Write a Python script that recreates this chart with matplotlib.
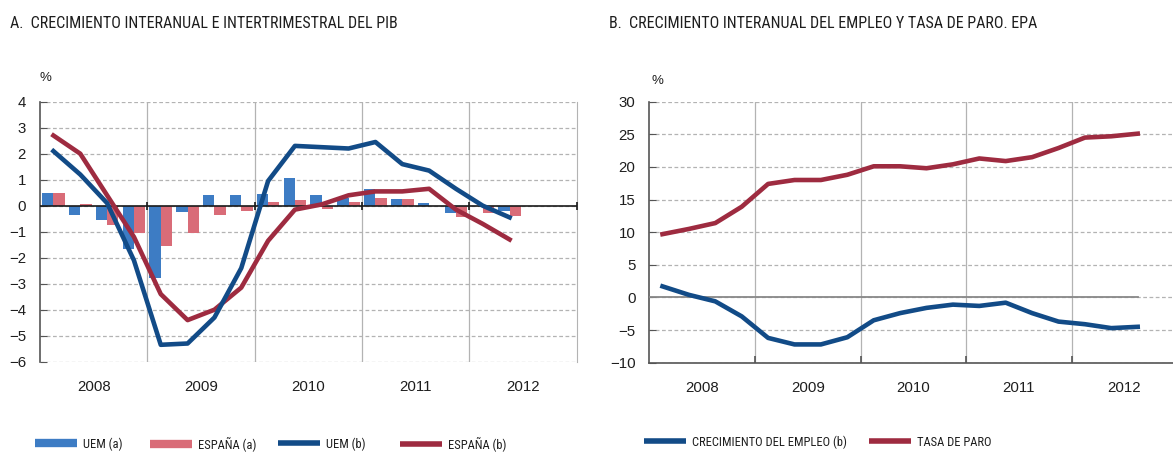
##################################################
# imports
##################################################

import numpy as np
import matplotlib
matplotlib.use('Agg')
import matplotlib.pyplot as plt
from matplotlib import font_manager as fm
from matplotlib.lines import Line2D

##################################################
# data
##################################################

years = ['2008', '2009', '2010', '2011', '2012']

# panel A: quarterly, 2008Q1 - 2012Q2
uem_a = [0.5, -0.35, -0.55, -1.65, -2.8, -0.25, 0.4, 0.4, 0.45, 1.05, 0.4, 0.3, 0.65, 0.25, 0.1, -0.3, 0.0, -0.2]
esp_a = [0.5, 0.05, -0.75, -1.05, -1.55, -1.05, -0.35, -0.2, 0.15, 0.2, -0.12, 0.15, 0.3, 0.25, 0.0, -0.45, -0.3, -0.4]
uem_b = [2.1, 1.2, 0.1, -2.1, -5.35, -5.3, -4.3, -2.4, 0.95, 2.3, 2.25, 2.2, 2.45, 1.6, 1.35, 0.65, 0.0, -0.45]
esp_b = [2.7, 2.0, 0.4, -1.2, -3.4, -4.4, -4.0, -3.15, -1.35, -0.15, 0.05, 0.4, 0.55, 0.55, 0.65, -0.15, -0.7, -1.3]

# panel B: quarterly, 2008Q1 - 2012Q3
empleo = [1.7, 0.4, -0.6, -2.9, -6.2, -7.2, -7.2, -6.1, -3.5, -2.4, -1.6, -1.1, -1.3, -0.8, -2.4, -3.7, -4.1, -4.7, -4.5]
paro = [9.7, 10.5, 11.4, 13.9, 17.4, 18.0, 18.0, 18.8, 20.1, 20.1, 19.8, 20.4, 21.3, 20.9, 21.5, 22.9, 24.5, 24.7, 25.1]

legend_a = ['UEM (a)', 'ESPAÑA (a)', 'UEM (b)', 'ESPAÑA (b)']
legend_b = ['CRECIMIENTO DEL EMPLEO (b)', 'TASA DE PARO']

##################################################
# style
##################################################

c_bar_uem = '#3d7cc4'
c_bar_esp = '#d96c78'
c_line_uem = '#124b87'
c_line_esp = '#9e2b40'
c_grid = '#b3b3b3'
c_spine = '#555555'
c_text = '#1e1e1e'

# narrow font for titles / legend, if one is installed
names = {f.name for f in fm.fontManager.ttflist}
dv_cond = any(f.name == 'DejaVu Sans' and f.stretch == 'condensed' for f in fm.fontManager.ttflist)
if 'Liberation Sans Narrow' in names:
    narrow = dict(family=['Liberation Sans Narrow', 'DejaVu Sans'])
    title_size, leg_size = 12, 9.5
elif 'Roboto Condensed' in names:
    narrow = dict(family=['Roboto Condensed', 'DejaVu Sans'])
    title_size, leg_size = 11.5, 9
elif dv_cond:
    narrow = dict(family=['DejaVu Sans'], stretch='condensed')
    title_size, leg_size = 10, 8.5
else:
    narrow = dict(family=['Liberation Sans', 'DejaVu Sans'])
    title_size, leg_size = 9.6, 8.5

plt.rcParams['font.family'] = ['Liberation Sans', 'DejaVu Sans']
plt.rcParams['font.size'] = 10

fig = plt.figure(figsize=(11.73, 4.53), dpi=100)

ax1 = fig.add_axes([40 / 1173, 1 - 361.7 / 453, 536.7 / 1173, 260 / 453])
ax2 = fig.add_axes([649.3 / 1173, 1 - 362.7 / 453, 523.7 / 1173, 261 / 453])


def base_axes(ax, xmax, ylim, yticks):
    ax.set_xlim(0, xmax)
    ax.set_ylim(*ylim)
    ax.set_yticks(yticks)
    ax.set_xticks([2, 6, 10, 14, 18])
    ax.set_xticklabels(years, color=c_text, fontsize=10.8)
    ax.set_xticks([4, 8, 12, 16], minor=True)
    ax.tick_params(axis='x', which='major', length=0, pad=13)
    ax.tick_params(axis='y', direction='in', length=5, color=c_spine, pad=10,
                   labelcolor=c_text, labelsize=10.8)
    ax.grid(axis='y', color=c_grid, linestyle=(0, (3, 2)), linewidth=0.9)
    ax.grid(axis='x', which='minor', color=c_grid, linestyle='-', linewidth=0.9)
    ax.set_axisbelow(True)
    for s in ['top', 'right', 'bottom']:
        ax.spines[s].set_visible(False)
    ax.spines['left'].set_color(c_spine)
    ax.spines['left'].set_linewidth(1.2)


##################################################
# panel A
##################################################

xa = np.arange(len(uem_a)) + 0.5
base_axes(ax1, 20, (-6, 4), np.arange(-6, 5, 1))
ax1.tick_params(axis='x', which='minor', length=0)
ax1.spines['right'].set_visible(True)
ax1.spines['right'].set_color(c_grid)

w = 0.42
ax1.bar(xa, uem_a, width=-w, align='edge', color=c_bar_uem, zorder=2)
ax1.bar(xa, esp_a, width=w, align='edge', color=c_bar_esp, zorder=2)
ax1.axhline(0, color='#1a1a1a', lw=1.2, zorder=3)
ax1.plot([4, 8, 12, 16, 20], [0] * 5, ls='none', marker='|', ms=6, mew=1.2,
         color='#1a1a1a', zorder=3, clip_on=False)
ax1.plot(xa, esp_b, color=c_line_esp, lw=3.3, zorder=4)
ax1.plot(xa, uem_b, color=c_line_uem, lw=3.3, zorder=5)

##################################################
# panel B
##################################################

xb = np.arange(len(empleo)) + 0.5
base_axes(ax2, 523.7 / 26.4, (-10, 30), np.arange(-10, 31, 5))
ax2.spines['bottom'].set_visible(True)
ax2.spines['bottom'].set_color(c_spine)
ax2.spines['bottom'].set_linewidth(1.2)
ax2.tick_params(axis='x', which='minor', direction='in', length=5, color=c_spine, width=1.2)
ax2.plot([0, xb[-1]], [0, 0], color='#888888', lw=1.3, zorder=3)
ax2.plot(xb, empleo, color=c_line_uem, lw=3.3, zorder=4)
ax2.plot(xb, paro, color=c_line_esp, lw=3.3, zorder=4)

##################################################
# titles and labels
##################################################

title_font = fm.FontProperties(size=title_size, **narrow)
fig.text(10 / 1173, 1 - 24 / 453, 'A.  CRECIMIENTO INTERANUAL E INTERTRIMESTRAL DEL PIB',
         fontproperties=title_font, color=c_text, va='center', ha='left')
fig.text(609 / 1173, 1 - 24 / 453, 'B.  CRECIMIENTO INTERANUAL DEL EMPLEO Y TASA DE PARO. EPA',
         fontproperties=title_font, color=c_text, va='center', ha='left')
fig.text(39 / 1173, 1 - 78 / 453, '%', fontsize=9.5, color=c_text, ha='left', va='center')
fig.text(651 / 1173, 1 - 81 / 453, '%', fontsize=9.5, color=c_text, ha='left', va='center')

##################################################
# legends (one entry each, placed like the original)
##################################################

leg_font = fm.FontProperties(size=leg_size, **narrow)
hlen = 42 / (leg_size * 100 / 72)


def legend_entry(color, lw, label, x, y):
    h = Line2D([], [], color=color, lw=lw, solid_capstyle='butt')
    leg = fig.legend([h], [label], loc='center left', bbox_to_anchor=(x / 1173, 1 - y / 453),
                     frameon=False, handlelength=hlen, handletextpad=0.5,
                     prop=leg_font, borderpad=0, borderaxespad=0)
    leg.get_texts()[0].set_color(c_text)
    return leg


for col, lw, lab, x in zip([c_bar_uem, c_bar_esp, c_line_uem, c_line_esp], [6, 6, 4, 4],
                           legend_a, [35, 150, 278, 400]):
    legend_entry(col, lw, lab, x, 444)

for col, lab, x in zip([c_line_uem, c_line_esp], legend_b, [644, 869]):
    legend_entry(col, 4, lab, x, 442)

fig.savefig('out.png', dpi=100, facecolor='white')
